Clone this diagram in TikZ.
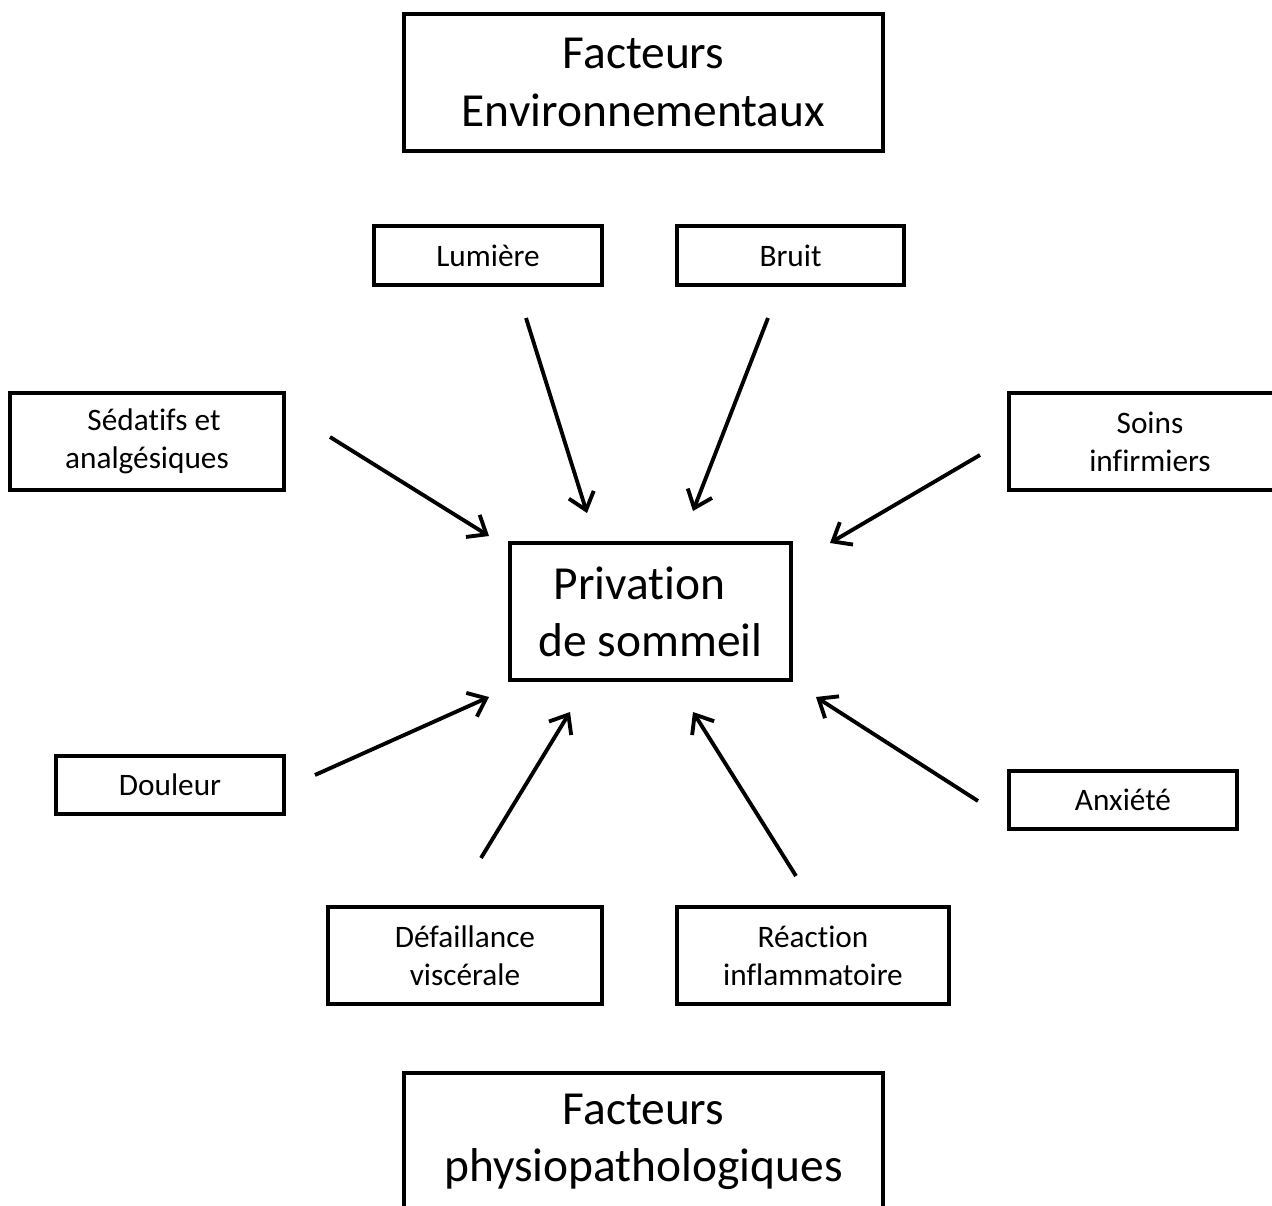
\documentclass[tikz,border=0pt]{standalone}
\usepackage{fontspec}
\setmainfont{Carlito}[Ligatures=NoCommon]
\usetikzlibrary{arrows.meta}

\begin{document}
\begin{tikzpicture}[x=0.02cm, y=-0.02cm,
    box/.style = {draw=black, line width=2.2pt, align=center, inner sep=0pt,
                  font=\fontsize{17.8}{21.7}\selectfont},
    bigbox/.style = {box, font=\fontsize{27}{32.5}\selectfont},
    arrow/.style = {line width=2.2pt, -{Straight Barb[length=3.2mm, width=5.2mm, line width=2.2pt]}}]

    \useasboundingbox (0,0) rectangle (1272,1206);

    \node[bigbox, minimum width=479*0.02cm, minimum height=137*0.02cm] (env) at (643.5,82.5) {Facteurs\\Environnementaux};
    \node[bigbox, minimum width=479*0.02cm, minimum height=137*0.02cm] (phys) at (643.5,1141.5) {Facteurs\\physiopathologiques};
    \node[bigbox, minimum width=281*0.02cm, minimum height=137*0.02cm] (priv) at (650.5,611.5) {Privation\makebox[0.44cm]{}\\de sommeil};

    \node[box, minimum width=228*0.02cm, minimum height=59*0.02cm] (lum) at (488,255.5) {Lumière};
    \node[box, minimum width=227*0.02cm, minimum height=59*0.02cm] (bruit) at (790.5,255.5) {Bruit};
    \node[box, minimum width=274*0.02cm, minimum height=97*0.02cm] (sed) at (147,441.5) {\makebox[0.28cm]{}Sédatifs et\\analgésiques};
    \node[box, minimum width=282*0.02cm, minimum height=97*0.02cm] (soins) at (1150,441.5) {Soins\\infirmiers};
    \node[box, minimum width=228*0.02cm, minimum height=58*0.02cm] (doul) at (170,785) {Douleur};
    \node[box, minimum width=228*0.02cm, minimum height=58*0.02cm] (anx) at (1123,800) {Anxiété};
    \node[box, minimum width=274*0.02cm, minimum height=97*0.02cm] (def) at (465,955.5) {Défaillance\\viscérale};
    \node[box, minimum width=272*0.02cm, minimum height=97*0.02cm] (rea) at (813,955.5) {Réaction\\inflammatoire};

    % arrow ends
    \coordinate (lum-s) at (526,318);   \coordinate (lum-e) at (587,513);
    \coordinate (bruit-s) at (768,318); \coordinate (bruit-e) at (693,511);
    \coordinate (sed-s) at (330,437);   \coordinate (sed-e) at (489,536);
    \coordinate (soins-s) at (980,455); \coordinate (soins-e) at (830,543);
    \coordinate (doul-s) at (315,775);  \coordinate (doul-e) at (489,697);
    \coordinate (def-s) at (481,858);   \coordinate (def-e) at (570,712);
    \coordinate (rea-s) at (796,876);   \coordinate (rea-e) at (693,712);
    \coordinate (anx-s) at (978,801);   \coordinate (anx-e) at (816,697);

    \draw[arrow] (lum-s) -- (lum-e);
    \draw[arrow] (bruit-s) -- (bruit-e);
    \draw[arrow] (sed-s) -- (sed-e);
    \draw[arrow] (soins-s) -- (soins-e);
    \draw[arrow] (doul-s) -- (doul-e);
    \draw[arrow] (def-s) -- (def-e);
    \draw[arrow] (rea-s) -- (rea-e);
    \draw[arrow] (anx-s) -- (anx-e);
\end{tikzpicture}
\end{document}
